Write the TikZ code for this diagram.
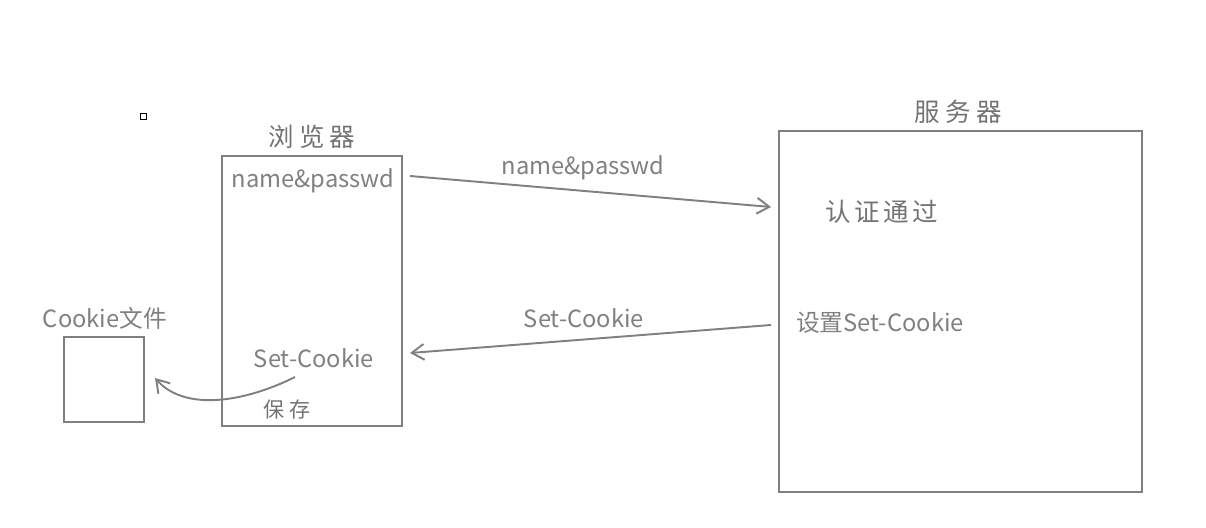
\documentclass[tikz,border=0pt]{standalone}
\usepackage{fontspec}
\setmainfont{Noto Sans CJK SC}
\usetikzlibrary{arrows.meta}
\definecolor{inkgray}{RGB}{128,128,128}
\tikzset{
  box/.style={draw=inkgray, line width=1.3pt, inner sep=0pt},
  label/.style={text=inkgray, font=\fontsize{13.5}{16}\selectfont, inner sep=0pt},
  title/.style={text=inkgray!90!black, font=\fontsize{14.5}{17}\selectfont, inner sep=0pt},
  flow/.style={draw=inkgray, line width=1.1pt, -{Straight Barb[length=7pt,width=9pt,line width=1.1pt]}},
}
\begin{document}
\begin{tikzpicture}[x=0.02cm, y=-0.02cm]
\useasboundingbox (0,0) rectangle (1206,527);
% BOXES
\node[draw=black, line width=0.5pt, minimum size=0.12cm, inner sep=0pt] at (143,116) (dot) {};
\node[box, minimum width=3.6cm, minimum height=5.4cm] at (312,291) (browser) {};
\node[box, minimum width=7.26cm, minimum height=7.22cm] at (960.5,311.5) (server) {};
\node[box, minimum width=1.6cm, minimum height=1.7cm] at (104,379.5) (cookiefile) {};
% TEXT
\node[title] at (312,137) (browser_title) {浏\hspace{3pt}览\hspace{3pt}器};
\node[title] at (958,112) (server_title) {服\hspace{3pt}务\hspace{3pt}器};
\node[label] at (105,318) (cookie_title) {Cookie文件};
\node[label] at (313,181) (browser_np) {name\&passwd};
\node[label] at (314,358) (browser_sc) {Set-Cookie};
\node[title, font=\fontsize{12}{14}\selectfont] at (287,409) (save_text) {保\hspace{3pt}存};
\node[title] at (882,212) (auth_text) {认\hspace{2pt}证\hspace{2pt}通\hspace{2pt}过};
\node[label] at (880,323) (server_sc) {设置Set-Cookie};
\node[label] at (583,168) (arrow_np) {name\&passwd};
\node[label] at (584,318) (arrow_sc) {Set-Cookie};
% ARROWS
\coordinate (np_out) at (410,176);
\coordinate (np_in) at (771,207);
\coordinate (sc_out) at (771,325);
\coordinate (sc_in) at (410,353);
\coordinate (save_out) at (295,377);
\coordinate (save_in) at (155,378);
\draw[flow] (np_out) -- (np_in);
\draw[flow] (sc_out) -- (sc_in);
\draw[flow] (save_out) .. controls (245,402) and (185,412) .. (save_in);
\end{tikzpicture}
\end{document}
